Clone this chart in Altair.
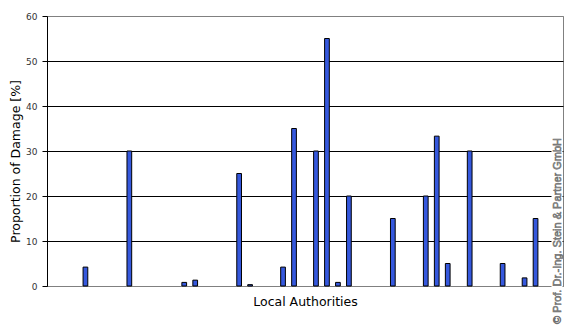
import altair as alt
import pandas as pd

# category slots (47 local authorities on the axis, only some with damage)
n_slots = 47
slots = [3, 7, 12, 13, 17, 18, 21, 22, 24, 25, 26, 27, 31, 34, 35, 36, 38, 41, 43, 44]
values = [4.2, 30, 0.8, 1.3, 25, 0.3, 4.2, 35, 30, 55, 0.8, 20, 15, 20, 33.3, 5, 30, 5, 1.8, 15]
y_ticks = [0, 10, 20, 30, 40, 50, 60]
copyright = "© Prof. Dr.-Ing. Stein & Partner GmbH"

domain = [f"LA{i:02d}" for i in range(n_slots)]
df = pd.DataFrame({"slot": [domain[s] for s in slots], "value": values})

W, H = 516, 270

bars = alt.Chart(df).mark_bar(
    fill="#3558DD", stroke="black", strokeWidth=1
).encode(
    x=alt.X(
        "slot:N",
        scale=alt.Scale(domain=domain, paddingInner=0.57, paddingOuter=0.285),
        axis=alt.Axis(
            title="Local Authorities",
            labels=False,
            ticks=False,
            domainColor="#808080",
            titleFont="DejaVu Sans",
            titleFontSize=12.5,
            titleFontWeight="normal",
            titleColor="black",
            titleBaseline="alphabetic",
            titleY=19,
        ),
    ),
    y=alt.Y(
        "value:Q",
        scale=alt.Scale(domain=[0, 60], nice=False),
        axis=alt.Axis(
            title="Proportion of Damage [%]",
            values=y_ticks,
            grid=True,
            gridColor=alt.condition(
                "datum.value == 0 || datum.value == 60",
                alt.value("#808080"),
                alt.value("black"),
            ),
            gridOpacity=1,
            domainColor="black",
            tickColor="black",
            tickSize=5,
            labelFont="DejaVu Sans",
            labelFontSize=9,
            labelColor="#333333",
            labelPadding=5,
            titleFont="DejaVu Sans",
            titleFontSize=12.5,
            titleFontWeight="normal",
            titleColor="black",
            titleX=-25,
            titleY=145,
            titleBaseline="bottom",
        ),
    ),
)

wm_df = pd.DataFrame({"t": [copyright]})
wm_bg = alt.Chart(wm_df).mark_rect(color="white").encode(
    x=alt.value(504.5), x2=alt.value(515.5), y=alt.value(116), y2=alt.value(316)
)
wm = alt.Chart(wm_df).mark_text(
    angle=270, font="Liberation Sans", fontSize=11, fill="#a0a0a0",
    stroke="#707070", strokeWidth=0.6, align="center", baseline="middle"
).encode(x=alt.value(510.5), y=alt.value(215), text="t:N")

chart = alt.layer(bars, wm_bg, wm).properties(
    width=W, height=H,
    autosize=alt.AutoSizeParams(type="none"),
    padding={"left": 47, "top": 16, "right": 2, "bottom": 46},
    background="white",
).configure_view(stroke="#808080", strokeWidth=1)

chart.save("out.html", embed_options={"renderer": "svg", "actions": False})
